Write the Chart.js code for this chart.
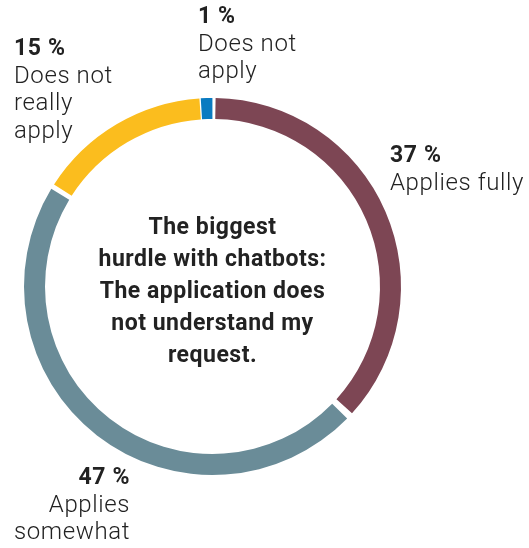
<!DOCTYPE html>
<html>
<head>
<meta charset="utf-8">
<script src="https://cdn.jsdelivr.net/npm/chart.js@4/dist/chart.umd.min.js"></script>
<style>
  html, body { margin: 0; padding: 0; background: #ffffff; }
  #wrap { width: 529px; height: 548px; position: relative; }
</style>
</head>
<body>
<div id="wrap"><canvas id="chart" width="529" height="548"></canvas></div>
<script>
// Survey answers, clockwise from the top
const categories = ['Applies fully', 'Applies somewhat', 'Does not really apply', 'Does not apply'];
const shares = [37, 47, 15, 1];
const colors = ['#7d4654', '#6a8c98', '#fbbd1e', '#0a7bc1'];

// Label text, broken into lines as printed
const labelLines = [
  ['Applies fully'],
  ['Applies', 'somewhat'],
  ['Does not', 'really', 'apply'],
  ['Does not', 'apply']
];
const centerLines = ['The biggest', 'hurdle with chatbots:', 'The application does', 'not understand my', 'request.'];

// Where each label block sits (x, top y, alignment)
const labelPlacement = [
  { x: 390, y: 156, align: 'left' },
  { x: 130, y: 478, align: 'right' },
  { x: 14, y: 49, align: 'left' },
  { x: 198, y: 17, align: 'left' }
];

const FONT = 'Roboto, "Open Sans", sans-serif';
const TEXT = '#222222';

const labelsPlugin = {
  id: 'ringLabels',
  afterDraw(chart) {
    const ctx = chart.ctx;
    ctx.save();
    ctx.fillStyle = TEXT;
    ctx.textBaseline = 'middle';
    ctx.letterSpacing = '0.6px';
    const values = chart.data.datasets[0].data;
    values.forEach((v, i) => {
      const p = labelPlacement[i];
      ctx.textAlign = p.align;
      ctx.font = 'bold 23px ' + FONT;
      ctx.fillText(v + ' %', p.x, p.y);
      ctx.font = '300 24px ' + FONT;
      labelLines[i].forEach((line, k) => {
        ctx.fillText(line, p.x, p.y + 27.5 * (k + 1));
      });
    });
    // Centre caption
    const arc = chart.getDatasetMeta(0).data[0];
    ctx.textAlign = 'center';
    ctx.font = 'bold 23px ' + FONT;
    ctx.letterSpacing = '0.5px';
    const lh = 32;
    const top = arc.y - lh * (centerLines.length - 1) / 2 + 6;
    centerLines.forEach((line, k) => {
      ctx.fillText(line, arc.x, top + lh * k);
    });
    ctx.restore();
  }
};

new Chart(document.getElementById('chart'), {
  type: 'doughnut',
  data: {
    labels: categories,
    datasets: [{
      data: shares,
      backgroundColor: colors,
      borderWidth: 0,
      spacing: 5
    }]
  },
  options: {
    responsive: false,
    animation: false,
    cutout: 165,
    rotation: 0,
    layout: { padding: { top: 98, bottom: 73, left: 24, right: 128 } },
    plugins: {
      legend: { display: false },
      tooltip: { enabled: false }
    }
  },
  plugins: [labelsPlugin]
});
</script>
</body>
</html>
